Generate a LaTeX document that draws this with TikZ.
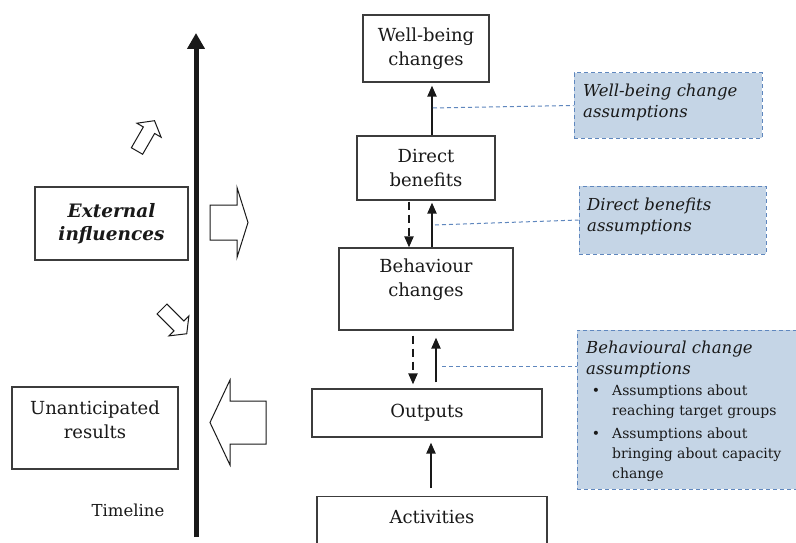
\documentclass[tikz,border=0pt]{standalone}
\usepackage{fontspec}
\setmainfont{DejaVu Serif}
\usetikzlibrary{arrows.meta,calc}
\definecolor{asfill}{RGB}{197,213,230}
\definecolor{asline}{RGB}{95,135,190}
\definecolor{boxline}{RGB}{60,60,60}
\definecolor{ink}{RGB}{25,25,25}
\begin{document}
\begin{tikzpicture}[x=1pt,y=-1pt,
  box/.style={draw=boxline,line width=1.2pt,fill=white,inner sep=0pt,align=center,text=ink,
    font=\fontsize{18}{24}\selectfont},
  boxtext/.style={inner sep=0pt,align=center,text=ink,font=\fontsize{18}{24}\selectfont},
  asbox/.style={draw=asline,dash pattern=on 4pt off 3pt,line width=1pt,fill=asfill,inner sep=0pt},
  astitle/.style={inner sep=0pt,align=left,anchor=west,text=ink,font=\itshape\fontsize{16.5}{21.5}\selectfont},
  asitem/.style={inner sep=0pt,align=left,anchor=west,text=ink,font=\fontsize{14}{20}\selectfont},
  link/.style={-{Triangle[width=9pt,length=11pt]},line width=2pt,ink},
  dlink/.style={link,dash pattern=on 8pt off 5pt},
  aslink/.style={draw=asline,line width=1pt,dash pattern=on 4pt off 3pt},
  barrow/.style={draw=ink,line width=1pt,fill=white,line join=miter},
  pics/blockarrow/.style args={#1/#2/#3/#4}{code={
    \draw[barrow] (0,-#2) -- (#1-#4,-#2) -- (#1-#4,-#3) -- (#1,0)
      -- (#1-#4,#3) -- (#1-#4,#2) -- (0,#2) -- cycle;}}
]
\useasboundingbox[fill=white] (0,0) rectangle (796,543);

% ---- timeline ----
\coordinate (tlb) at (196,537);
\coordinate (tlt) at (196,33);
\draw[line width=5pt,ink,-{Triangle[width=17pt,length=16pt]}] (tlb) -- (tlt);
\node[boxtext,font=\fontsize{16.5}{18}\selectfont] (tl) at (128,510) {Timeline};

% ---- left column ----
\node[box,minimum width=153,minimum height=73,
      font=\bfseries\itshape\fontsize{18.5}{23}\selectfont] (ext) at (111.5,223.5) {External\\influences};
\node[box,minimum width=166,minimum height=82] (unr) at (95,428) {};
\node[boxtext] (unrt) at (95,420) {Unanticipated\\results};

% block arrows around the timeline
\pic[rotate=60]  at (137,151)   {blockarrow={35/6.5/14/11}};
\pic             at (210,222.5) {blockarrow={38/17.5/35/11}};
\pic[rotate=-45] at (162,309)   {blockarrow={35/7/14/11}};
\pic[rotate=180] at (266,422.5) {blockarrow={56/21.5/42.5/20}};

% ---- results chain ----
\node[box,minimum width=126,minimum height=67] (wb) at (426,48.5) {Well-being\\changes};
\node[box,minimum width=138,minimum height=64] (db) at (426,168) {Direct\\benefits};
\node[box,minimum width=174,minimum height=82] (bc) at (426,289) {};
\node[boxtext] (bct) at (426,280) {Behaviour\\changes};
\node[box,minimum width=230,minimum height=48] (out) at (427,413) {Outputs};
\node[box,minimum width=230,minimum height=64,anchor=north] (act) at (432,496) {};
\node[boxtext] (actt) at (432,517) {Activities};

\draw[link] ([xshift=6pt]db.north) -- ([xshift=6pt,yshift=-3pt]wb.south);
\draw[dlink] ([xshift=-17pt,yshift=-1pt]db.south) -- ([xshift=-17pt]bc.north);
\draw[link] ([xshift=6pt]bc.north) -- ([xshift=6pt,yshift=-2pt]db.south);
\draw[dlink] ([xshift=-13pt,yshift=-5pt]bc.south) -- ([xshift=-14pt,yshift=4pt]out.north);
\draw[link] ([xshift=9pt,yshift=6pt]out.north) -- ([xshift=10pt,yshift=-7pt]bc.south);
\draw[link] ([xshift=-1pt,yshift=8pt]act.north) -- ([xshift=4pt,yshift=-5pt]out.south);

% ---- assumptions ----
\node[asbox,minimum width=188,minimum height=65] (a1) at (668,105.5) {};
\node[astitle] (a1t) at (583,102.5) {Well-being change\\assumptions};
\node[asbox,minimum width=187,minimum height=68] (a2) at (672.5,220) {};
\node[astitle] (a2t) at (587,216.5) {Direct benefits\\assumptions};
\node[asbox,minimum width=223,minimum height=159] (a3) at (688.5,409.5) {};
\node[astitle] (a3t) at (586,359.5) {Behavioural change\\assumptions};
\node[asitem] (a3i1) at (612,402) {\llap{•\hspace{12pt}}Assumptions about\\reaching target groups};
\node[asitem] (a3i2) at (612,455) {\llap{•\hspace{12pt}}Assumptions about\\bringing about capacity\\change};

\coordinate (c1) at (433,108);
\coordinate (c2) at (435,225);
\coordinate (c3) at (442,366);
\draw[aslink] (c1) -- (a1.west);
\draw[aslink] (c2) -- (a2.west);
\draw[aslink] (c3) -- (c3 -| a3.west);
\end{tikzpicture}
\end{document}
